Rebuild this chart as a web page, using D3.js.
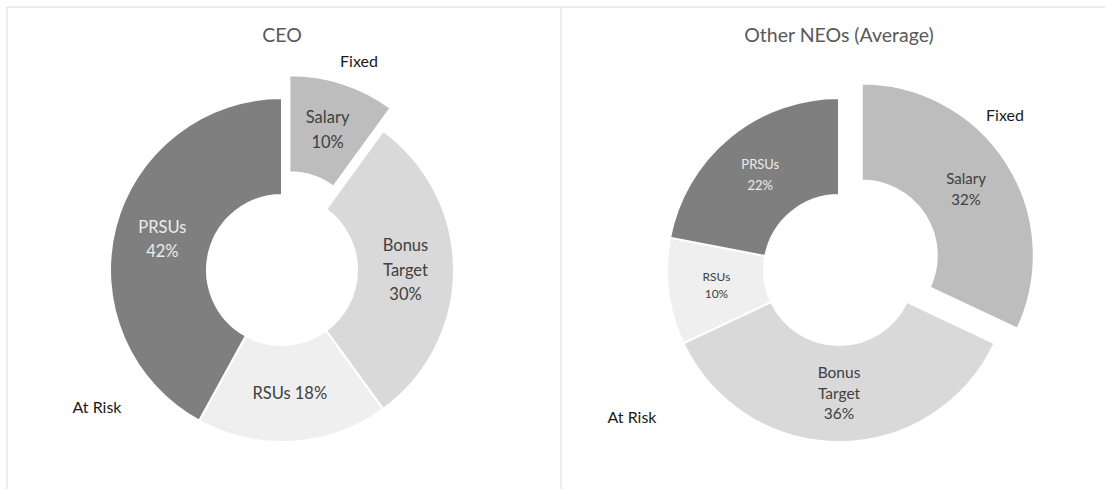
<!DOCTYPE html>
<html>
<head>
<meta charset="utf-8">
<script src="https://cdn.jsdelivr.net/npm/d3@7"></script>
<style>
  body { margin: 0; background: #fff; }
  svg { display: block; font-family: Lato, "Open Sans", sans-serif; }
</style>
</head>
<body>
<svg width="1105" height="489"></svg>
<script>
// values
var categories = ["Salary", "Bonus Target", "RSUs", "PRSUs"];
var ceoValues = [10, 30, 18, 42];
var neoValues = [32, 36, 10, 22];
var titles = ["CEO", "Other NEOs (Average)"];

var colors = d3.scaleOrdinal()
               .domain(categories)
               .range(["#bdbdbd", "#d9d9d9", "#efefef", "#7f7f7f"]);

var svg = d3.select('svg');

// panel frames
svg.append('path')
   .attr('d', 'M7,489V7H1105M561,7V489')
   .attr('fill', 'none')
   .attr('stroke', '#d9d9d9')
   .attr('stroke-width', 1);

var charts = [
  {title: titles[0], values: ceoValues, cx: 282, explode: 24,
   fontSizes: [16.5, 16.5, 16.5, 16.5], lineHeights: [25, 24.5, 25, 24],
   oneLine: ["RSUs"], fixed: [359, 67], risk: [97, 413]},
  {title: titles[1], values: neoValues, cx: 839, explode: 27,
   fontSizes: [15, 15.5, 12, 13], lineHeights: [21, 20.5, 17, 21],
   oneLine: [], fixed: [1005, 121], risk: [632, 423]}
];

var cy = 270;
var innerR = 75;
var outerR = 172;

var pie = d3.pie().sort(null).value(d => d.value);
var arc = d3.arc().innerRadius(innerR).outerRadius(outerR);

function labelLines(d, oneLine) {
  var pct = d.data.value + '%';
  if (oneLine.indexOf(d.data.name) >= 0) return [d.data.name + ' ' + pct];
  return d.data.name.split(' ').concat([pct]);
}

charts.forEach(chart => {
  var data = categories.map((c, i) => ({name: c, value: chart.values[i], i: i}));
  var g = svg.append('g').attr('transform', 'translate(' + chart.cx + ',' + cy + ')');

  // offset only the Salary (fixed) slice
  var shift = d => {
    if (d.data.name !== 'Salary') return [0, 0];
    var a = (d.startAngle + d.endAngle) / 2;
    return [chart.explode * Math.sin(a), -chart.explode * Math.cos(a)];
  };

  var slices = g.selectAll('g.slice')
                .data(pie(data))
                .enter()
                .append('g')
                  .attr('class', 'slice')
                  .attr('transform', d => 'translate(' + shift(d) + ')');

  slices.append('path')
        .attr('d', arc)
        .attr('fill', d => colors(d.data.name))
        .attr('stroke', '#fff')
        .attr('stroke-width', 2);

  slices.each(function(d) {
    var lines = labelLines(d, chart.oneLine);
    var c = arc.centroid(d);
    var fs = chart.fontSizes[d.data.i];
    var lh = chart.lineHeights[d.data.i];
    var t = d3.select(this).append('text')
              .attr('text-anchor', 'middle')
              .attr('font-size', fs)
              .attr('fill', d.data.name === 'PRSUs' ? '#ececec' : '#404040');
    lines.forEach((l, k) => {
      t.append('tspan')
       .attr('x', c[0])
       .attr('y', c[1] + (k - (lines.length - 1) / 2) * lh + fs * 0.35)
       .text(l);
    });
  });

  svg.append('text')
     .attr('x', chart.cx)
     .attr('y', 42)
     .attr('text-anchor', 'middle')
     .attr('font-size', 19.5)
     .attr('fill', '#595959')
     .text(chart.title);

  svg.append('text')
     .attr('x', chart.fixed[0])
     .attr('y', chart.fixed[1])
     .attr('text-anchor', 'middle')
     .attr('font-size', 16)
     .attr('fill', '#1a1a1a')
     .text('Fixed');

  svg.append('text')
     .attr('x', chart.risk[0])
     .attr('y', chart.risk[1])
     .attr('text-anchor', 'middle')
     .attr('font-size', 16)
     .attr('fill', '#1a1a1a')
     .text('At Risk');
});
</script>
</body>
</html>
